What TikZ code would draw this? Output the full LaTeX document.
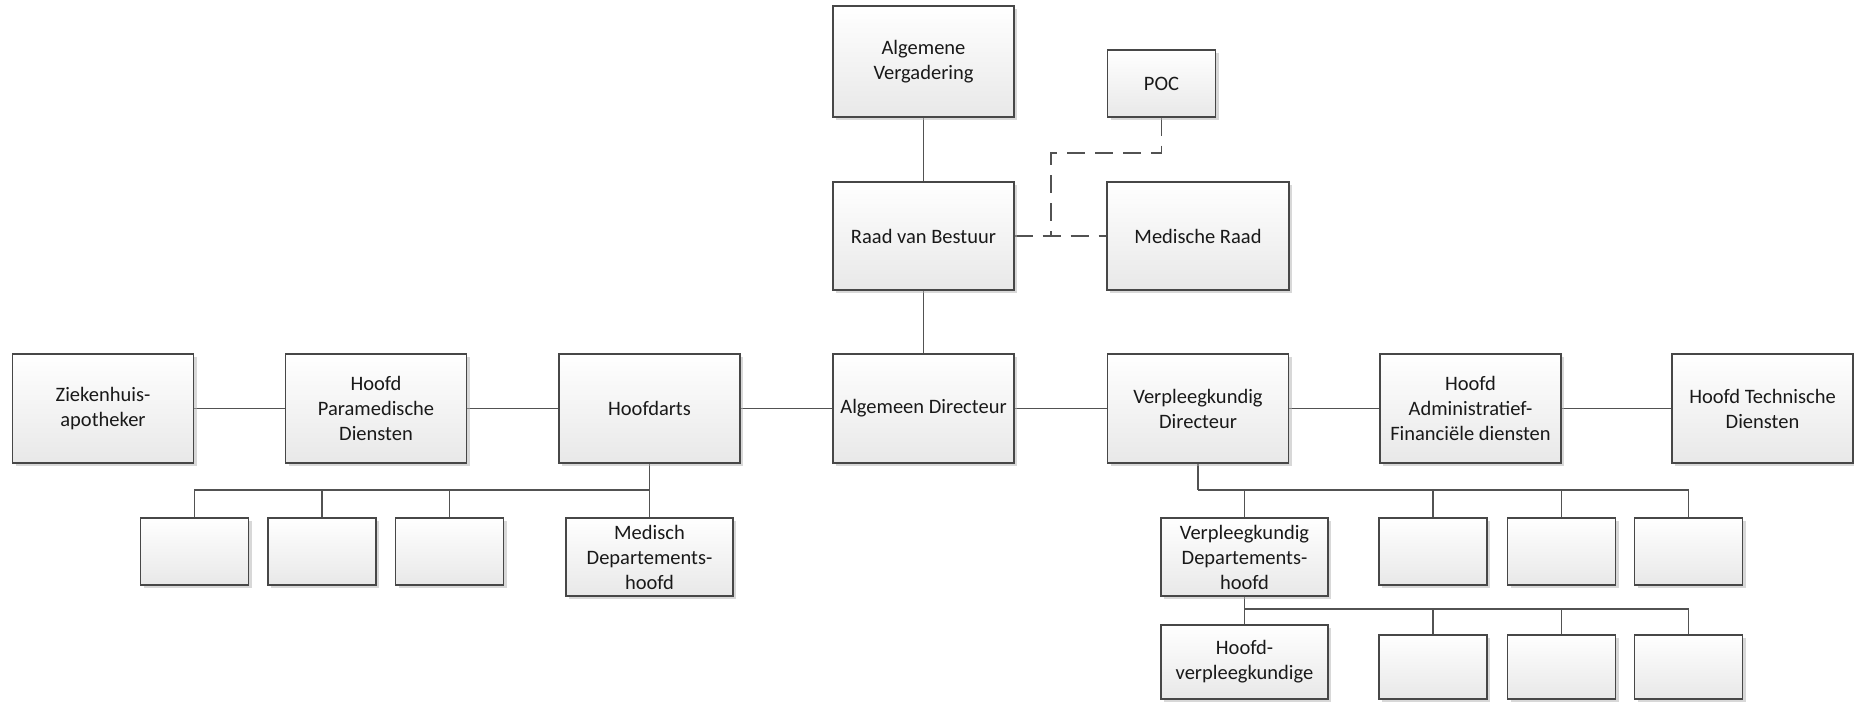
\documentclass[tikz,border=0pt]{standalone}
\usepackage{fontspec}
\setmainfont{Carlito}
\usepackage{tikz}
\usetikzlibrary{positioning}
\usetikzlibrary{shadows}
\pgfdeclarelayer{nodelayer}
\pgfdeclarelayer{edgelayer}
\pgfsetlayers{edgelayer,nodelayer,main}
\tikzset{
  orgbox/.style={draw=black!72, line width=1.3pt, top color=white, bottom color=black!9,
    drop shadow={shadow xshift=3pt, shadow yshift=-3pt, fill=black!30, opacity=0.5},
    align=center, inner sep=2pt, text=black!90,
    font=\fontsize{20.5}{25}\selectfont, minimum width=181pt, minimum height=109pt},
  smallbox/.style={orgbox, minimum width=108pt, minimum height=67pt},
  deptbox/.style={orgbox, minimum width=167pt, minimum height=78pt},
  link/.style={draw=black!68, line width=1.3pt},
  dashlink/.style={link, dash pattern=on 18pt off 10pt}
}

\begin{document}
\begin{tikzpicture}[x=1pt, y=-1pt]
  \useasboundingbox (0, 0) rectangle (1854, 701);
  \begin{pgfonlayer}{nodelayer}
    \node [orgbox, minimum height=111pt] (0) at (923.5, 61.5) {Algemene\\Vergadering};
    \node [smallbox] (1) at (1161.5, 83.5) {POC};
    \node [orgbox, minimum height=108pt] (2) at (923.5, 236) {Raad van Bestuur};
    \node [orgbox, minimum height=108pt, minimum width=182pt] (3) at (1198, 236) {Medische Raad};
    \node [orgbox] (4) at (103, 408.5) {Ziekenhuis-\\apotheker};
    \node [orgbox] (5) at (376, 408.5) {Hoofd\\Paramedische\\Diensten};
    \node [orgbox] (6) at (649.5, 408.5) {Hoofdarts};
    \node [orgbox] (7) at (923.5, 408.5) {Algemeen Directeur};
    \node [orgbox] (8) at (1198, 408.5) {Verpleegkundig\\Directeur};
    \node [orgbox] (9) at (1470.5, 408.5) {Hoofd\\Administratief-\\Financiële diensten};
    \node [orgbox] (10) at (1762.5, 408.5) {Hoofd Technische\\Diensten};
    \node [smallbox] (11) at (194.5, 551.5) {};
    \node [smallbox] (12) at (322, 551.5) {};
    \node [smallbox] (13) at (449.5, 551.5) {};
    \node [deptbox] (14) at (649.5, 557) {Medisch\\Departements-\\hoofd};
    \node [deptbox] (15) at (1244.5, 557) {Verpleegkundig\\Departements-\\hoofd};
    \node [smallbox] (16) at (1433, 551.5) {};
    \node [smallbox] (17) at (1561.5, 551.5) {};
    \node [smallbox] (18) at (1688.5, 551.5) {};
    \node [deptbox, minimum height=74pt] (19) at (1244.5, 662) {Hoofd-\\verpleegkundige};
    \node [smallbox, minimum height=64pt] (20) at (1433, 667) {};
    \node [smallbox, minimum height=64pt] (21) at (1561.5, 667) {};
    \node [smallbox, minimum height=64pt] (22) at (1688.5, 667) {};
    \coordinate (23) at (1051, 153);
    \coordinate (24) at (1051, 236);
    \coordinate (25) at (649.5, 490);
    \coordinate (26) at (1198, 490);
    \coordinate (27) at (1244.5, 609);
  \end{pgfonlayer}
  \begin{pgfonlayer}{edgelayer}
    \draw [link] (0) to (2);
    \draw [link] (2) to (7);
    \draw [dashlink] (2) to (3);
    \draw [dashlink] (1) |- (23) to (24);
    \draw [link] (4) to (5);
    \draw [link] (5) to (6);
    \draw [link] (6) to (7);
    \draw [link] (7) to (8);
    \draw [link] (8) to (9);
    \draw [link] (9) to (10);
    \draw [link] (6) to (14);
    \draw [link] (25) -| (11);
    \draw [link] (25) -| (12);
    \draw [link] (25) -| (13);
    \draw [link] (8) |- (26);
    \draw [link] (26) -| (15);
    \draw [link] (26) -| (16);
    \draw [link] (26) -| (17);
    \draw [link] (26) -| (18);
    \draw [link] (15) to (19);
    \draw [link] (27) -| (20);
    \draw [link] (27) -| (21);
    \draw [link] (27) -| (22);
  \end{pgfonlayer}
\end{tikzpicture}
\end{document}
